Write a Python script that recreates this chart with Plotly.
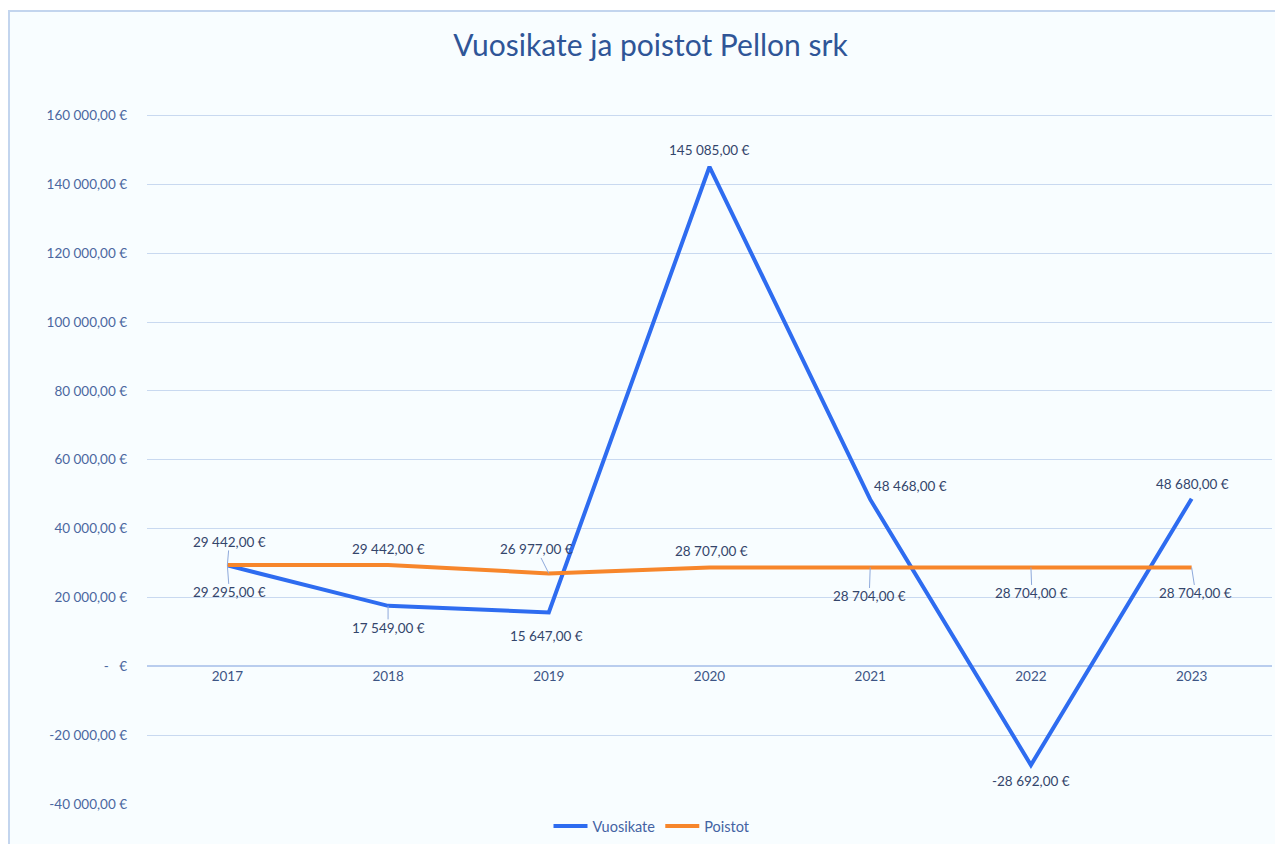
import plotly.graph_objects as go

years = ["2017", "2018", "2019", "2020", "2021", "2022", "2023"]
vuosikate = [29295, 17549, 15647, 145085, 48468, -28692, 48680]
poistot = [29442, 29442, 26977, 28707, 28704, 28704, 28704]

y_tickvals = [-40000, -20000, 0, 20000, 40000, 60000, 80000, 100000, 120000, 140000, 160000]
y_ticktext = ["-40\u00a0000,00\u00a0€", "-20\u00a0000,00\u00a0€", "-\u00a0\u00a0\u00a0€",
              "20\u00a0000,00\u00a0€", "40\u00a0000,00\u00a0€", "60\u00a0000,00\u00a0€",
              "80\u00a0000,00\u00a0€", "100\u00a0000,00\u00a0€", "120\u00a0000,00\u00a0€",
              "140\u00a0000,00\u00a0€", "160\u00a0000,00\u00a0€"]

# label offsets (pixels) and whether a leader line is drawn
v_off = [(2, 27, True), (0, 22, True), (-2, 24, False), (0, -17, False),
         (40, -13, False), (0, 16, False), (1, -15, False)]
p_off = [(2, -23, True), (0, -16, False), (-12, -24, True), (2, -16, False),
         (-1, 29, True), (1, 26, True), (4, 26, True)]

BLUE = "#2E6CF0"
ORANGE = "#F7862B"
FONT = "Lato"

def fmt(v):
    s = f"{abs(v):,}".replace(",", "\u00a0")
    return ("-" if v < 0 else "") + s + ",00\u00a0€"

fig = go.Figure()
fig.add_trace(go.Scatter(x=years, y=vuosikate, mode="lines", name="Vuosikate",
                         line=dict(color=BLUE, width=4)))
fig.add_trace(go.Scatter(x=years, y=poistot, mode="lines", name="Poistot",
                         line=dict(color=ORANGE, width=4)))

ann = []
for series, offs in ((vuosikate, v_off), (poistot, p_off)):
    for i, (v, (ax, ay, lead)) in enumerate(zip(series, offs)):
        ann.append(dict(x=i, y=v, xref="x", yref="y", text=fmt(v), showarrow=True,
                        ax=ax, ay=ay, arrowhead=0, arrowwidth=1, standoff=0,
                        arrowcolor="#8EA9DB" if lead else "rgba(0,0,0,0)",
                        font=dict(family=FONT, size=13.5, color="#34456B"), borderpad=0))

# figure pixel geometry (page has an 8px body offset)
L, R, T, B = 139, 19, 104, 48
W, H = 1283, 844
pw, ph = W - L - R, H - T - B
def px_x(p):
    return (p - L) / pw
def px_y(p):
    return (H - B - p) / ph

shapes = [dict(type="rect", xref="paper", yref="paper", x0=px_x(1), x1=px_x(1300),
               y0=px_y(870), y1=px_y(3), fillcolor="#F8FDFF",
               line=dict(color="#C3D5EE", width=2), layer="below")]

ymin, ymax = -40000, 161000
zero_pos = (0 - ymin) / (ymax - ymin)

fig.update_layout(
    width=W, height=H,
    margin=dict(l=L, r=R, t=T, b=B, autoexpand=False),
    paper_bgcolor="white", plot_bgcolor="rgba(0,0,0,0)",
    title=dict(text="Vuosikate ja poistot Pellon srk", x=642.5 / W, xref="container",
               xanchor="center", y=1 - 37 / H, yref="container", yanchor="middle",
               font=dict(family=FONT, size=30, color="#2F5597")),
    xaxis=dict(type="category", range=[-0.5, 6.5], showgrid=False, showline=False, ticks="",
               anchor="free", position=zero_pos,
               tickfont=dict(family=FONT, size=13.5, color="#3D5585"), zeroline=False),
    yaxis=dict(range=[ymin, ymax], tickvals=y_tickvals, ticktext=y_ticktext,
               gridcolor="#C9D9F0", gridwidth=1, zeroline=True, zerolinecolor="#B9CDEE",
               zerolinewidth=1.5, ticklabelstandoff=19,
               tickfont=dict(family=FONT, size=13.5, color="#4B67A0")),
    legend=dict(orientation="h", x=px_x(644), xanchor="center", y=px_y(818), yanchor="middle",
                font=dict(family=FONT, size=14.5, color="#4463A3"), bgcolor="rgba(0,0,0,0)",
                itemwidth=34, tracegroupgap=0),
    annotations=ann, shapes=shapes, showlegend=True,
)

fig.write_html("out.html")
